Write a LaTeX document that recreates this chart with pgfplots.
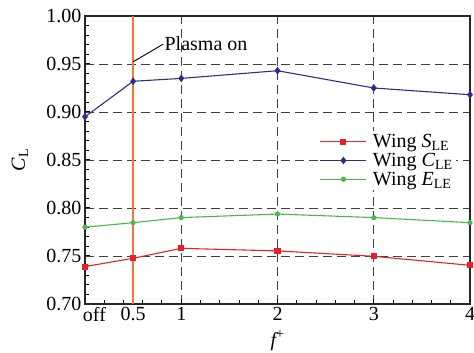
\documentclass[border=0pt]{standalone}
\usepackage{pgfplots}
\pgfplotsset{compat=1.18}
\usepackage{fontspec}
\setmainfont{Liberation Serif}
\usetikzlibrary{calc}
\definecolor{cred}{RGB}{232,32,42}
\definecolor{cblue}{RGB}{43,46,143}
\definecolor{cgreen}{RGB}{76,184,72}
\definecolor{plasmaorange}{RGB}{240,120,50}
\begin{document}
\begin{tikzpicture}
\begin{axis}[
  scale only axis, width=385pt, height=288pt,
  xmin=0, xmax=4, ymin=0.70, ymax=1.00,
  xtick={0,0.5,1,2,3,4}, xticklabels={\makebox[0pt][l]{\hspace{-2pt}off},0.5,1,2,3,4},
  minor xtick={0.2,0.4,0.6,0.8,1.2,1.4,1.6,1.8,2.2,2.4,2.6,2.8,3.2,3.4,3.6,3.8},
  ytick={0.70,0.75,0.80,0.85,0.90,0.95,1.00},
  minor y tick num=4,
  yticklabel style={/pgf/number format/.cd, fixed, fixed zerofill, precision=2},
  /pgf/number format/assume math mode=true,
  tick align=inside, tick pos=left,
  major tick length=5pt, minor tick length=4pt,
  tick style={line width=1pt, black},
  axis line style={line width=1.2pt, black!85},
  grid=major,
  major grid style={dash pattern=on 9pt off 5pt, black!75, line width=0.8pt},
  font=\fontsize{20}{24}\selectfont,
  xlabel={{\itshape f}\textsuperscript{+}},
  xlabel style={at={(axis description cs:0.5,-0.128)}, anchor=center},
  ylabel={{\itshape C}\textsubscript{L}},
  ylabel style={at={(axis description cs:-0.169,0.5)}, anchor=center},
  legend style={at={(rel axis cs:0.607,0.6)}, anchor=north west, draw=none, fill=white,
    inner sep=1pt, row sep=0pt, font=\fontsize{20}{22}\selectfont},
  legend cell align=left,
  legend image code/.code={\draw[mark repeat=2,mark phase=2,#1] plot coordinates {(0pt,0pt)(23pt,0pt)(46pt,0pt)}; \path (50pt,0pt);},
]
\addplot[draw=plasmaorange, color=plasmaorange, line width=1.3pt, mark=none, forget plot] coordinates {(0.5,0.70)(0.5,1.00)};
\addplot[cred, line width=1.1pt, mark=square*, mark size=2.5pt] coordinates {
  (0,0.739)(0.5,0.7476)(1,0.758)(2,0.7553)(3,0.7497)(4,0.7403)};
\addlegendentry{Wing \textit{S}\textsubscript{LE}}
\addplot[cblue, line width=1.1pt, mark=diamond*, mark size=3pt] coordinates {
  (0,0.895)(0.5,0.932)(1,0.935)(2,0.943)(3,0.925)(4,0.918)};
\addlegendentry{Wing \textit{C}\textsubscript{LE}}
\addplot[cgreen, line width=1.1pt, mark=*, mark size=2pt] coordinates {
  (0,0.780)(0.5,0.7847)(1,0.790)(2,0.7937)(3,0.790)(4,0.7847)};
\addlegendentry{Wing \textit{E}\textsubscript{LE}}
\draw[black, line width=0.9pt] (axis cs:0.502,0.9524) -- (axis cs:0.814,0.9708);
\node[anchor=west, inner sep=0pt, font=\fontsize{20}{24}\selectfont] at (axis cs:0.825,0.9712) {Plasma on};
\end{axis}
\pgfresetboundingbox
\path ($(current axis.south west)+(-85pt,-49pt)$) rectangle ($(current axis.north east)+(4pt,16pt)$);
\end{tikzpicture}
\end{document}
